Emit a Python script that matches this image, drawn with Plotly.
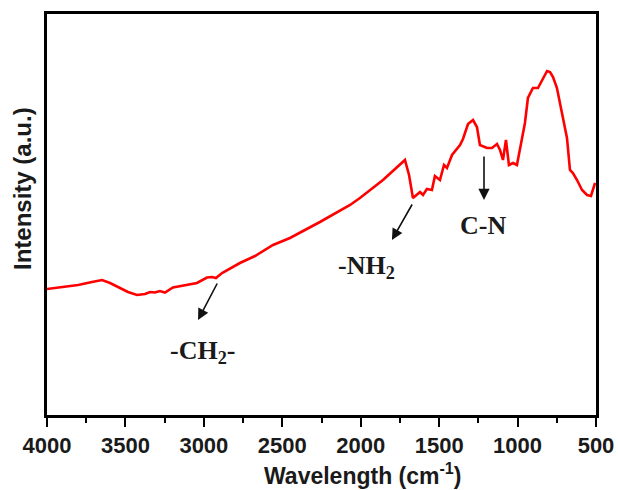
import plotly.graph_objects as go

wavenumber = [4000, 3802, 3713, 3649, 3598, 3535, 3484, 3426, 3375, 3343, 3312, 3280, 3248,
              3197, 3120, 3044, 2980, 2948, 2923, 2884, 2770, 2674, 2559, 2451, 2260, 2068,
              2005, 1858, 1718, 1692, 1667, 1622, 1603, 1578, 1546, 1527, 1495, 1469, 1450,
              1418, 1367, 1348, 1316, 1284, 1259, 1240, 1195, 1163, 1131, 1112, 1093, 1074,
              1055, 1029, 1004, 985, 953, 934, 902, 870, 844, 812, 793, 774, 749, 717, 685,
              666, 647, 621, 589, 557, 532, 506]
intensity = [126, 130, 133, 135, 132, 127, 123, 120, 121, 123, 122.5, 124, 122.5,
             127.5, 129.5, 132, 137.5, 138, 137, 142, 152, 159, 170, 177, 193, 210,
             217, 235, 255, 240, 217, 223, 220, 226, 225, 239, 235, 250, 247,
             260, 270, 276, 291, 295, 288, 270, 267, 267, 271, 265, 255, 275,
             250, 252, 250, 265, 292, 317, 327, 327, 335, 344, 343, 338, 327, 302, 277,
             245, 242, 235, 225, 220, 219, 232]

tick_vals = [4000, 3500, 3000, 2500, 2000, 1500, 1000, 500]
tick_text = ["4000", "3500", "3000", "2500", "2000", "1500", "1000", "500"]

# annotations: label, label position, arrow head, arrow tail (data units)
ann_labels = ["-CH<sub>2</sub>-", "-NH<sub>2</sub>", "C-N"]
ann_label_x = [3006, 1960, 1221]
ann_label_y = [63, 148, 190]
arrow_head_x = [3037, 1801, 1214]
arrow_head_y = [95, 175, 215]
arrow_tail_x = [2910, 1667, 1214]
arrow_tail_y = [133, 212, 260]

x_title = "<b>Wavelength</b> <b>(cm<sup>-1</sup>)</b>"
y_title = "<b>Intensity (a.u.)</b>"

fig = go.Figure()
fig.add_trace(go.Scatter(x=wavenumber, y=intensity, mode="lines",
                         line=dict(color="#ff0000", width=2.6, shape="linear"),
                         showlegend=False, hoverinfo="skip"))

for lab, lx, ly, hx, hy, tx, ty in zip(ann_labels, ann_label_x, ann_label_y,
                                        arrow_head_x, arrow_head_y, arrow_tail_x, arrow_tail_y):
    fig.add_annotation(x=hx, y=hy, ax=tx, ay=ty, xref="x", yref="y", axref="x", ayref="y",
                       text="", showarrow=True, arrowhead=2, arrowsize=1.4, arrowwidth=1.6,
                       arrowcolor="#111")
    fig.add_annotation(x=lx, y=ly, xref="x", yref="y", text=lab, showarrow=False,
                       font=dict(family="Liberation Serif", size=26, color="#1a1a1a", weight="bold"))

# axis titles placed as paper annotations (offset as in the reference)
fig.add_annotation(x=0.5756, y=-0.147, xref="paper", yref="paper", text=x_title,
                   showarrow=False, xanchor="center", yanchor="middle",
                   font=dict(family="Liberation Sans", size=23, color="#1a1a1a"))
fig.add_annotation(x=-0.0437, y=0.5636, xref="paper", yref="paper", text=y_title,
                   showarrow=False, textangle=-90, xanchor="center", yanchor="middle",
                   font=dict(family="Liberation Sans", size=24, color="#1a1a1a"))

fig.update_layout(
    width=618, height=490,
    margin=dict(l=47, r=22, t=14, b=75, autoexpand=False),
    paper_bgcolor="white", plot_bgcolor="white",
    xaxis=dict(range=[4000, 500], tickvals=tick_vals, ticktext=tick_text,
               automargin=False,
               ticks="outside", ticklen=9, tickwidth=2, tickcolor="black",
               minor=dict(ticks="outside", ticklen=5, tickwidth=2, tickcolor="black", dtick=250),
               showline=True, linewidth=2.5, linecolor="black", mirror=True,
               showgrid=False, zeroline=False,
               tickfont=dict(family="Liberation Sans", size=22, color="#1a1a1a", weight="bold")),
    yaxis=dict(range=[0, 401], showticklabels=False, ticks="", automargin=False,
               showline=True, linewidth=2.5, linecolor="black", mirror=True,
               showgrid=False, zeroline=False),
)

fig.write_html("out.html")
